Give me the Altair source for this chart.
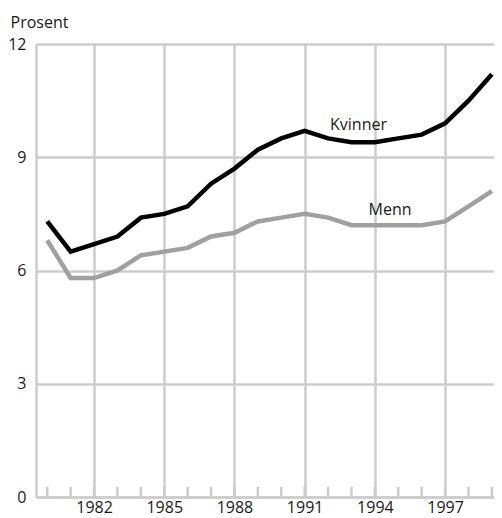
import altair as alt
import pandas as pd

years = list(range(1980, 2000))
kvinner = [7.3, 6.5, 6.7, 6.9, 7.4, 7.5, 7.7, 8.3, 8.7, 9.2, 9.5, 9.7, 9.5, 9.4, 9.4, 9.5, 9.6, 9.9, 10.5, 11.2]
menn = [6.8, 5.8, 5.8, 6.0, 6.4, 6.5, 6.6, 6.9, 7.0, 7.3, 7.4, 7.5, 7.4, 7.2, 7.2, 7.2, 7.2, 7.3, 7.7, 8.1]
series = ["Kvinner", "Menn"]
series_colors = ["#000000", "#a0a0a0"]
major_years = [1982, 1985, 1988, 1991, 1994, 1997]
y_ticks = [0, 3, 6, 9, 12]
label_text = ["Kvinner", "Menn"]
label_year = [1993.3, 1994.65]
label_value = [9.85, 7.6]

df = pd.DataFrame({
    "year": years * 2,
    "value": kvinner + menn,
    "series": ["Kvinner"] * len(years) + ["Menn"] * len(years),
})
ticks_df = pd.DataFrame({"year": years, "y0": [0] * len(years), "y1": [0.27] * len(years)})
labels_df = pd.DataFrame({"year": label_year, "value": label_value, "text": label_text})

GRID = "#cccccc"
FONT = "Open Sans"
FS = 16
TXT = "#1a1a1a"

x_scale = alt.Scale(domain=[1979.52, 1999.09], nice=False, zero=False)
y_scale = alt.Scale(domain=[0, 12], nice=False)

x_axis = alt.Axis(values=major_years, format="d", title=None, ticks=False, tickSize=0,
                  labelPadding=2, labelFontSize=FS, labelFont=FONT, labelColor=TXT,
                  grid=True, gridColor=GRID, gridWidth=2.5, domainColor=GRID, domainWidth=2.5)
y_axis = alt.Axis(values=y_ticks, title="Prosent", titleAngle=0, titleAlign="left",
                  titleBaseline="alphabetic", titleX=-26, titleY=-17, titleFontSize=FS,
                  titleFont=FONT, titleFontWeight="normal", titleColor=TXT,
                  ticks=False, tickSize=0, labelPadding=10, labelFontSize=FS, labelFont=FONT,
                  labelColor=TXT, grid=True, gridColor=GRID, gridWidth=2.5,
                  domainColor=GRID, domainWidth=2.5)

lines = alt.Chart(df).mark_line(strokeWidth=4.5, strokeJoin="miter").encode(
    x=alt.X("year:Q", scale=x_scale, axis=x_axis),
    y=alt.Y("value:Q", scale=y_scale, axis=y_axis),
    color=alt.Color("series:N", scale=alt.Scale(domain=series, range=series_colors), legend=None),
)

minor = alt.Chart(ticks_df).mark_rule(color=GRID, strokeWidth=2.5).encode(
    x=alt.X("year:Q", scale=x_scale),
    y=alt.Y("y0:Q", scale=y_scale),
    y2="y1:Q",
)

labels = alt.Chart(labels_df).mark_text(font=FONT, fontSize=FS, color=TXT).encode(
    x=alt.X("year:Q", scale=x_scale),
    y=alt.Y("value:Q", scale=y_scale),
    text="text:N",
)

chart = alt.layer(minor, lines, labels).properties(
    width=458, height=453,
    autosize=alt.AutoSizeParams(type="none"),
    padding={"left": 28, "top": 36, "right": 0, "bottom": 21},
).configure_view(stroke=None).configure(background="white")

chart.save("out.html", embed_options={"renderer": "svg", "actions": False})
